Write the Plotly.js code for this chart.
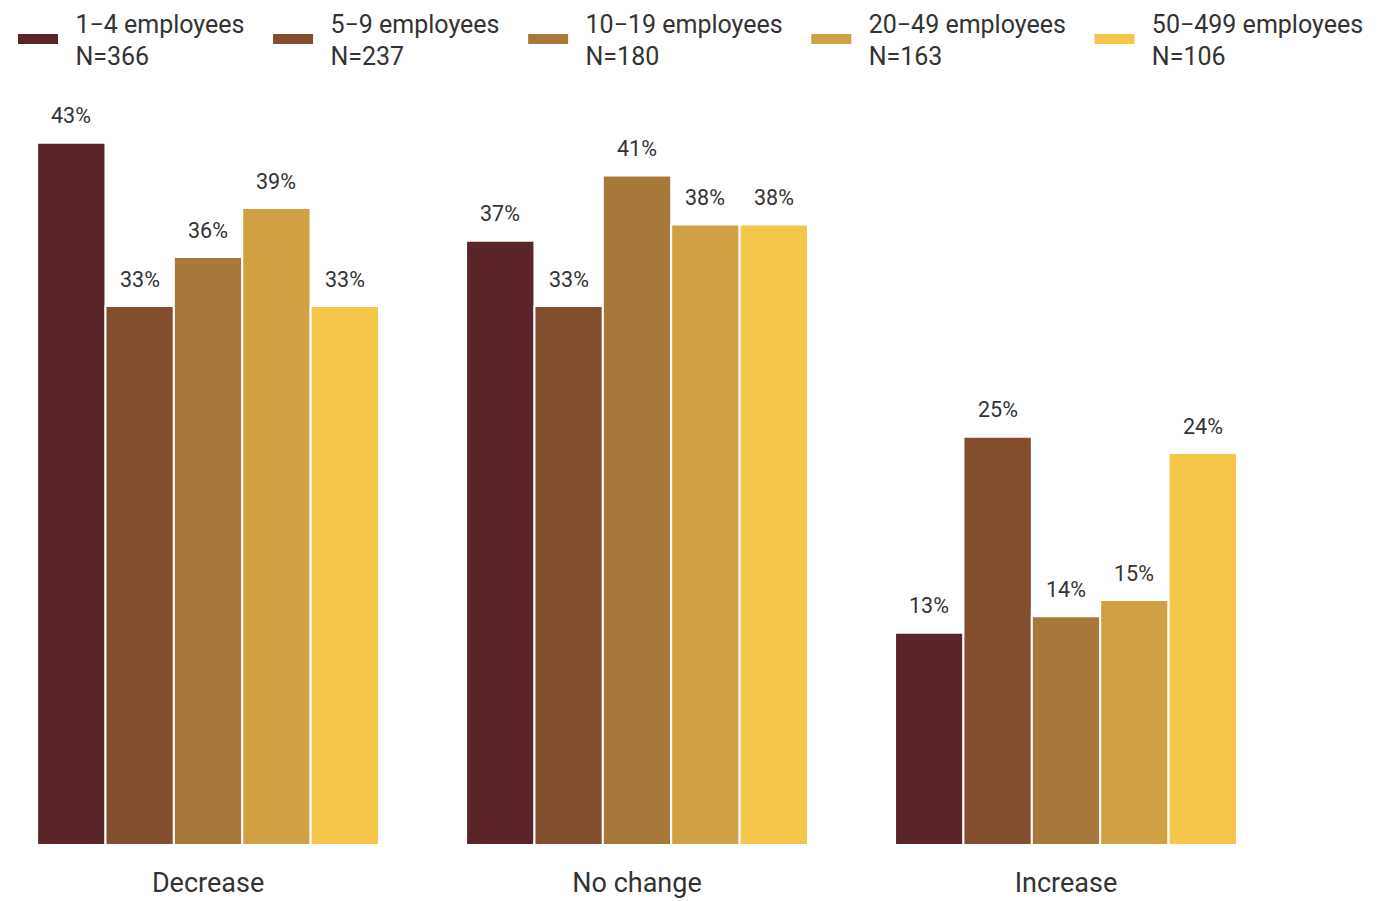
<!DOCTYPE html>
<html>
<head>
<meta charset="utf-8">
<script src="https://cdn.plot.ly/plotly-3.0.1.min.js"></script>
<style>
html,body{margin:0;padding:0;background:#fff;}
#chart{width:1383px;height:901px;}
</style>
</head>
<body>
<div id="chart"></div>
<script>
const categories = ["Decrease", "No change", "Increase"];
const seriesNames = ["1\u22124 employees", "5\u22129 employees", "10\u221219 employees", "20\u221249 employees", "50\u2212499 employees"];
const sampleSizes = ["N=366", "N=237", "N=180", "N=163", "N=106"];
const size1to4 = [43, 37, 13];
const size5to9 = [33, 33, 25];
const size10to19 = [36, 41, 14];
const size20to49 = [39, 38, 15];
const size50to499 = [33, 38, 24];
const seriesValues = [size1to4, size5to9, size10to19, size20to49, size50to499];
const colors = ["#5a2428", "#824e2e", "#a8783a", "#d0a042", "#f4c64a"];

const FONT = "Roboto, 'Noto Sans', sans-serif";
const TEXT = "#333333";
const PAD = "\u00a0\u00a0";
const TRAIL = "\u00a0\u00a0\u00a0";
const bargap = 0.203;
const nSeries = seriesValues.length;
const barW = (1 - bargap) / nSeries;

const traces = [];
seriesValues.forEach((vals, i) => {
  traces.push({
    type: "bar", x: categories, y: vals, name: seriesNames[i] + " " + sampleSizes[i],
    marker: {color: colors[i], line: {color: "#ffffff", width: 2}},
    showlegend: false, hoverinfo: "x+y"
  });
});
seriesValues.forEach((vals, i) => {
  traces.push({
    type: "scatter", mode: "lines", x: [null], y: [null],
    name: PAD + seriesNames[i] + (i < nSeries - 1 ? TRAIL : "") + "<br>" + PAD + sampleSizes[i],
    line: {color: colors[i], width: 12}, showlegend: true, hoverinfo: "skip"
  });
});

const annotations = [];
seriesValues.forEach((vals, i) => {
  vals.forEach((v, c) => {
    annotations.push({
      x: c + (i - (nSeries - 1) / 2) * barW, y: v, xref: "x", yref: "y",
      text: v + "%", showarrow: false, yanchor: "middle", yshift: 27,
      font: {family: FONT, size: 21.5, color: TEXT}
    });
  });
});

const layout = {
  width: 1383, height: 901,
  margin: {l: 0, r: 0, t: 100, b: 56},
  paper_bgcolor: "#ffffff", plot_bgcolor: "#ffffff",
  font: {family: FONT, color: TEXT},
  barmode: "group", bargap: bargap, bargroupgap: 0,
  xaxis: {
    type: "category", range: [-0.485, 2.739], showgrid: false, zeroline: false,
    showline: false, ticks: "", ticklabelstandoff: 19,
    tickfont: {family: FONT, size: 27, color: TEXT}
  },
  yaxis: {range: [0, 45.62], visible: false, showgrid: false, zeroline: false},
  legend: {
    orientation: "h", xref: "container", yref: "container", x: 0.0094, y: 1, xanchor: "left", yanchor: "top",
    itemwidth: 40, font: {family: FONT, size: 25, color: TEXT}, traceorder: "normal"
  },
  annotations: annotations,
  showlegend: true
};

Plotly.newPlot("chart", traces, layout, {displayModeBar: false, staticPlot: true});
</script>
</body>
</html>
